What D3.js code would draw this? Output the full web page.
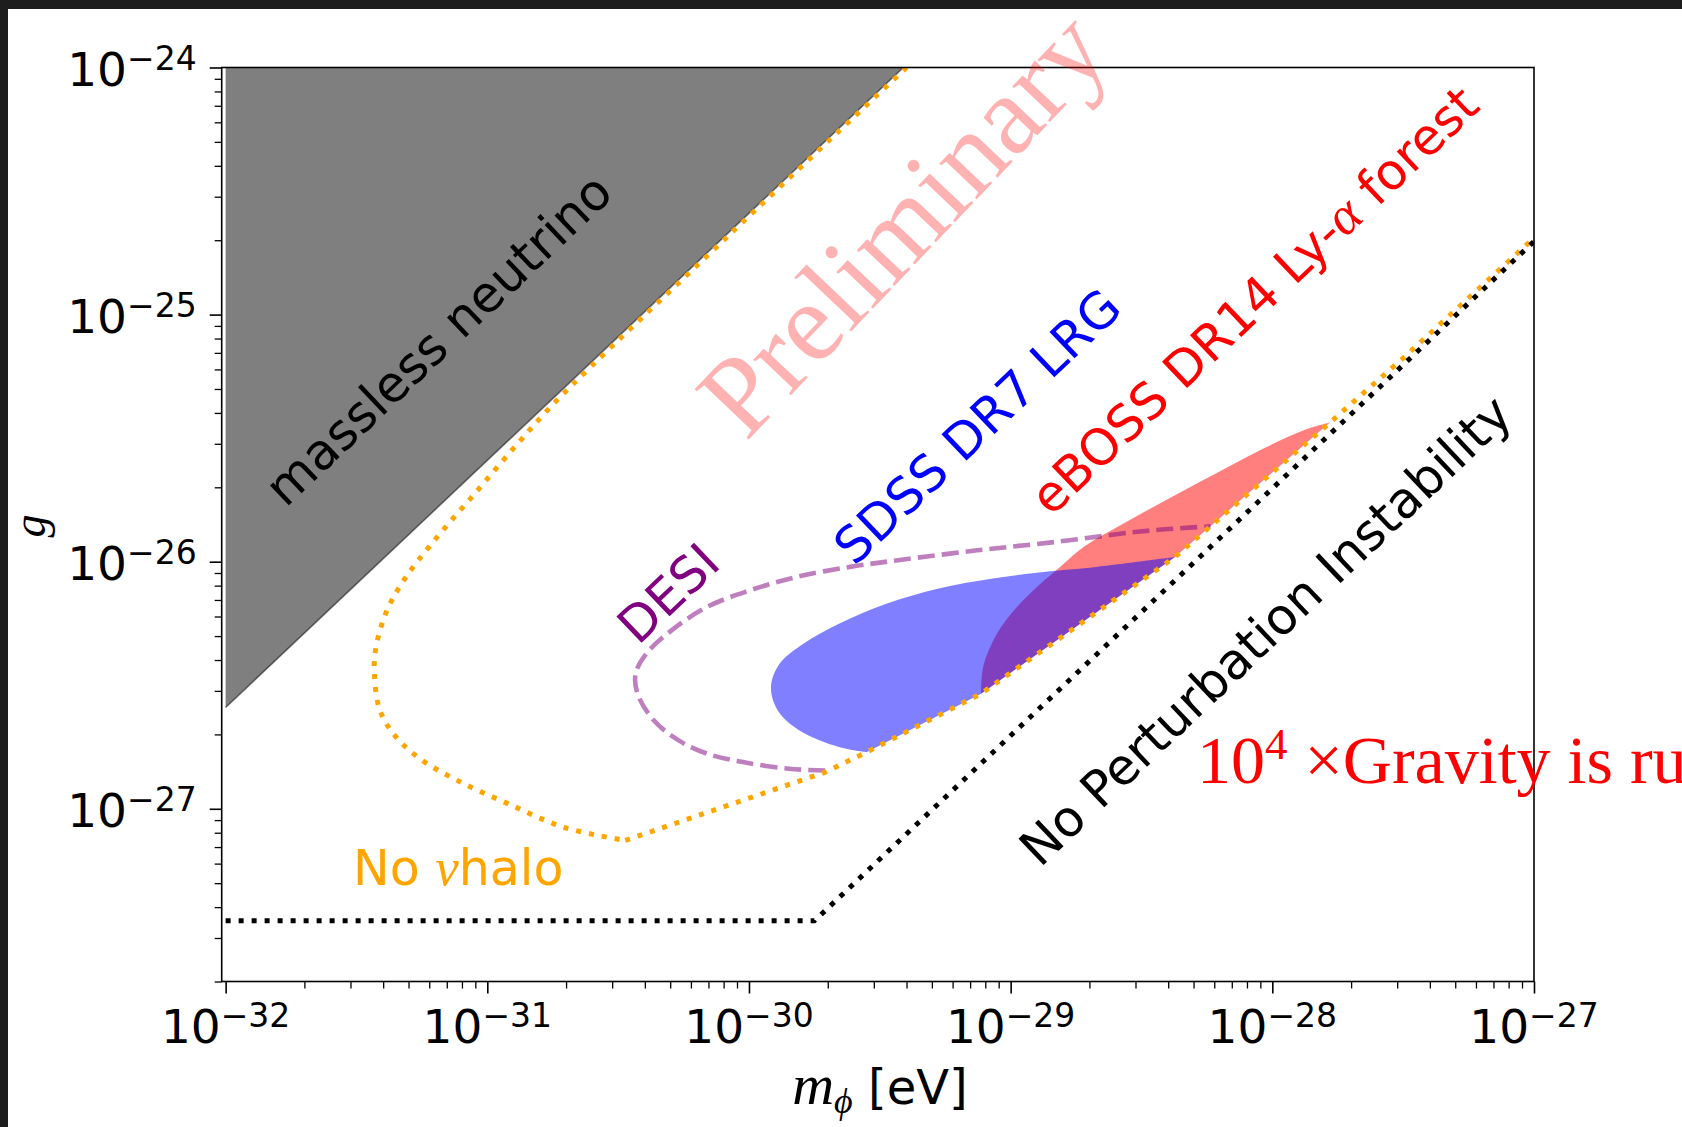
<!DOCTYPE html>
<html>
<head>
<meta charset="utf-8">
<script src="https://cdn.jsdelivr.net/npm/d3@7"></script>
<style>
  html, body { margin: 0; padding: 0; background: #ffffff; }
  svg { display: block; }
</style>
</head>
<body>
<svg id="chart" width="1682" height="1127"></svg>
<script>
// All curves are given as [log10(m_phi / eV), log10(g)] pairs.

// Excluded region: massless neutrino (g ∝ m_phi)
const masslessRegion = [[-32, -24], [-32, -26.59], [-29.41, -24]];

// "No nu halo" boundary, upper/left branch down to the corner
const haloUpper = [
  [-29.398, -24.000], [-30.072, -24.674], [-30.733, -25.346], [-30.883, -25.521],
  [-31.047, -25.723], [-31.211, -25.925], [-31.319, -26.075], [-31.388, -26.209],
  [-31.429, -26.371], [-31.429, -26.492], [-31.410, -26.602], [-31.360, -26.695],
  [-31.265, -26.792], [-31.115, -26.885], [-30.924, -26.978], [-30.707, -27.075],
  [-30.473, -27.128]
];
// "No nu halo" boundary, lower/right branch from the corner to the right edge
const haloLower = [
  [-30.473, -27.128], [-29.709, -26.852], [-29.551, -26.771], [-29.113, -26.534],
  [-28.372, -25.981], [-27.780, -25.437], [-27.500, -25.176], [-27.000, -24.690]
];

// No perturbation instability: flat floor, then g ∝ m_phi
const instabilityLine = [[-32, -27.4536], [-29.75, -27.4536], [-27, -24.7036]];

// SDSS DR7 LRG allowed region: curved upper edge (bottom point -> right tip)
const sdssEdge = [
  [-29.551, -26.771], [-29.656, -26.750], [-29.807, -26.683], [-29.890, -26.602],
  [-29.916, -26.507], [-29.883, -26.413], [-29.792, -26.332], [-29.656, -26.251],
  [-29.475, -26.170], [-29.279, -26.109], [-29.067, -26.068], [-28.840, -26.038],
  [-28.674, -26.021], [-28.372, -25.981]
];
// closing segment along the halo boundary (right tip -> bottom point)
const sdssBase = [[-29.113, -26.534], [-29.551, -26.771]];

// eBOSS DR14 Ly-alpha forest region: curved edge (bottom -> tip)
const ebossEdge = [
  [-29.113, -26.534], [-29.105, -26.426], [-29.052, -26.291], [-28.976, -26.183],
  [-28.886, -26.089], [-28.825, -26.035], [-28.720, -25.940], [-28.584, -25.855],
  [-28.418, -25.757], [-28.221, -25.646], [-28.024, -25.537], [-27.880, -25.468],
  [-27.780, -25.437]
];
const ebossBase = [[-28.372, -25.981], [-29.113, -26.534]];

// DESI forecast contour (dashed)
const desiCurve = [
  [-29.709, -26.845], [-29.847, -26.838], [-30.023, -26.811], [-30.160, -26.777],
  [-30.269, -26.723], [-30.364, -26.642], [-30.426, -26.534], [-30.433, -26.453],
  [-30.392, -26.372], [-30.296, -26.278], [-30.160, -26.183], [-29.996, -26.116],
  [-29.819, -26.062], [-29.614, -26.021], [-29.430, -25.994], [-29.128, -25.954],
  [-28.827, -25.920], [-28.525, -25.880], [-28.372, -25.866], [-28.236, -25.857]
];

// Axis ticks
const xMajor = [1e-32, 1e-31, 1e-30, 1e-29, 1e-28, 1e-27];
const yMajor = [1e-27, 1e-26, 1e-25, 1e-24];
const minorMultipliers = [2, 3, 4, 5, 6, 7, 8, 9];

// ---------------------------------------------------------------------------
const svg = d3.select("#chart");
const W = 1682, H = 1127;
const plot = { left: 221.7, right: 1534, top: 67.5, bottom: 981.5 };

const x = d3.scaleLog().domain([Math.pow(10, -32.015), 1e-27]).range([plot.left, plot.right]);
const y = d3.scaleLog().domain([2e-28, 1e-24]).range([plot.bottom, plot.top]);

const P = d => [x(Math.pow(10, d[0])), y(Math.pow(10, d[1]))];

const SANS = "'DejaVu Sans', sans-serif";
const SERIF = "'Liberation Serif', 'Times New Roman', serif";

// page background and the dark frame strip
svg.append("rect").attr("width", W).attr("height", H).attr("fill", "#ffffff");
svg.append("rect").attr("x", 0).attr("y", 0).attr("width", W).attr("height", 9).attr("fill", "#1d1d1d");
svg.append("rect").attr("x", 0).attr("y", 0).attr("width", 8).attr("height", H).attr("fill", "#1d1d1d");

svg.append("defs").append("clipPath").attr("id", "plotClip")
  .append("rect")
  .attr("x", plot.left).attr("y", plot.top)
  .attr("width", plot.right - plot.left).attr("height", plot.bottom - plot.top);

const g = svg.append("g").attr("clip-path", "url(#plotClip)");

const linear = d3.line().x(d => P(d)[0]).y(d => P(d)[1]);
const smooth = d3.line().x(d => P(d)[0]).y(d => P(d)[1]).curve(d3.curveCatmullRom.alpha(0.5));

// massless neutrino region
g.append("path")
  .attr("d", linear(masslessRegion) + "Z")
  .attr("fill", "rgba(0,0,0,0.5)")
  .attr("stroke", "none");
g.append("path")
  .attr("d", linear([masslessRegion[1], masslessRegion[2]]))
  .attr("fill", "none")
  .attr("stroke", "rgba(0,0,0,0.5)")
  .attr("stroke-width", 1.6);

// closed region: smooth edge + straight segments along the halo boundary
function region(edge, base) {
  const tail = base.map(d => "L" + P(d).join(",")).join("");
  return smooth(edge) + tail + "Z";
}

g.append("path").attr("d", region(ebossEdge, ebossBase)).attr("fill", "rgba(255,0,0,0.5)");
g.append("path").attr("d", region(sdssEdge, sdssBase)).attr("fill", "rgba(0,0,255,0.5)");

// DESI dashed contour
g.append("path")
  .attr("d", smooth(desiCurve))
  .attr("fill", "none")
  .attr("stroke", "rgba(128,0,128,0.5)")
  .attr("stroke-width", 4.6)
  .attr("stroke-dasharray", "17,7");

// No nu halo boundary (dotted orange)
const dotted = { width: 5, dash: "5,8" };
g.append("path")
  .attr("d", smooth(haloUpper))
  .attr("fill", "none").attr("stroke", "#ffa500")
  .attr("stroke-width", dotted.width).attr("stroke-dasharray", dotted.dash);
g.append("path")
  .attr("d", linear(haloLower))
  .attr("fill", "none").attr("stroke", "#ffa500")
  .attr("stroke-width", dotted.width).attr("stroke-dasharray", dotted.dash);

// perturbation instability boundary (dotted black)
g.append("path")
  .attr("d", linear(instabilityLine))
  .attr("fill", "none").attr("stroke", "#000000")
  .attr("stroke-width", dotted.width).attr("stroke-dasharray", dotted.dash);

// ---------------------------------------------------------------------------
// axes
function minorTicks(lo, hi) {
  const out = [];
  for (let e = lo; e <= hi; e++) {
    minorMultipliers.forEach(k => out.push(k * Math.pow(10, e)));
  }
  return out;
}
const xMinor = minorTicks(-32, -28).filter(v => v <= 1e-27);
const yMinor = minorTicks(-28, -25).filter(v => v >= 1.99e-28 && v <= 1e-24);

function styleAxis(sel, w) {
  sel.select(".domain").remove();
  sel.selectAll(".tick line").attr("stroke", "#000").attr("stroke-width", w);
  sel.selectAll(".tick text").remove();
}

svg.append("g").attr("transform", `translate(0,${plot.bottom})`)
  .call(d3.axisBottom(x).tickValues(xMajor).tickSize(12).tickFormat(""))
  .call(s => styleAxis(s, 1.6));
svg.append("g").attr("transform", `translate(0,${plot.bottom})`)
  .call(d3.axisBottom(x).tickValues(xMinor).tickSize(7).tickFormat(""))
  .call(s => styleAxis(s, 1.3));
svg.append("g").attr("transform", `translate(${plot.left},0)`)
  .call(d3.axisLeft(y).tickValues(yMajor).tickSize(12).tickFormat(""))
  .call(s => styleAxis(s, 1.6));
svg.append("g").attr("transform", `translate(${plot.left},0)`)
  .call(d3.axisLeft(y).tickValues(yMinor).tickSize(7).tickFormat(""))
  .call(s => styleAxis(s, 1.3));

// spines
svg.append("rect")
  .attr("x", plot.left).attr("y", plot.top)
  .attr("width", plot.right - plot.left).attr("height", plot.bottom - plot.top)
  .attr("fill", "none").attr("stroke", "#000").attr("stroke-width", 1.6);

// power-of-ten tick labels
function powerLabel(sel, v) {
  const e = Math.round(Math.log10(v));
  sel.append("tspan").text("10");
  sel.append("tspan").attr("font-size", 33).attr("dy", -16).text("\u2212" + Math.abs(e));
}

svg.append("g").selectAll("text").data(xMajor).join("text")
  .attr("x", d => x(d)).attr("y", plot.bottom + 61)
  .attr("text-anchor", "middle")
  .attr("font-family", SANS).attr("font-size", 47).attr("fill", "#000")
  .each(function (d) { powerLabel(d3.select(this), d); });

svg.append("g").selectAll("text").data(yMajor).join("text")
  .attr("x", plot.left - 25).attr("y", d => y(d) + 18)
  .attr("text-anchor", "end")
  .attr("font-family", SANS).attr("font-size", 47).attr("fill", "#000")
  .each(function (d) { powerLabel(d3.select(this), d); });

// axis titles
svg.append("text")
  .attr("transform", `translate(45,526) rotate(-90)`)
  .attr("text-anchor", "middle")
  .attr("font-family", SERIF).attr("font-style", "italic").attr("font-size", 46)
  .text("g");

const xTitle = svg.append("text")
  .attr("x", 880).attr("y", 1104)
  .attr("text-anchor", "middle")
  .attr("font-size", 48).attr("fill", "#000");
xTitle.append("tspan").attr("font-family", SERIF).attr("font-style", "italic").attr("font-size", 58).text("m");
xTitle.append("tspan").attr("font-family", SERIF).attr("font-style", "italic").attr("font-size", 36).attr("dy", 9).text("\u03d5");
xTitle.append("tspan").attr("font-family", SANS).attr("dy", -9).text(" [eV]");

// ---------------------------------------------------------------------------
// annotations
function rotatedLabel(cx, cy, angle, color, size, family, parts) {
  const t = svg.append("text")
    .attr("transform", `translate(${cx},${cy}) rotate(${-angle})`)
    .attr("text-anchor", "middle")
    .attr("dy", "0.36em")
    .attr("font-family", family).attr("font-size", size).attr("fill", color);
  parts.forEach(p => {
    const s = t.append("tspan").text(p.text);
    if (p.math) s.attr("font-family", SERIF).attr("font-style", "italic").attr("font-size", size * 1.08);
  });
  return t;
}

rotatedLabel(438, 339, 43.5, "#000000", 50, SANS, [{ text: "massless neutrino" }]);
rotatedLabel(900, 221, 46.5, "rgba(255,0,0,0.3)", 113, SERIF, [{ text: "Preliminary" }]);
rotatedLabel(977, 426, 43.5, "#0000ff", 50, SANS, [{ text: "SDSS DR7 LRG" }]);
rotatedLabel(1254, 300, 43.5, "#ff0000", 50, SANS,
  [{ text: "eBOSS DR14 Ly-" }, { text: "\u03b1", math: true }, { text: " forest" }]);
rotatedLabel(668, 593, 43.5, "#800080", 50, SANS, [{ text: "DESI" }]);
rotatedLabel(1265, 630, 43.5, "#000000", 50, SANS, [{ text: "No Perturbation Instability" }]);

const halo = svg.append("text")
  .attr("x", 353).attr("y", 885)
  .attr("font-family", SANS).attr("font-size", 49).attr("fill", "#ffa500");
halo.append("tspan").text("No ");
halo.append("tspan").attr("font-family", SERIF).attr("font-style", "italic").attr("font-size", 53).text("\u03bd");
halo.append("tspan").text("halo");

const grav = svg.append("text")
  .attr("x", 1197).attr("y", 783)
  .attr("font-family", SERIF).attr("font-size", 68).attr("fill", "#ff0000");
grav.append("tspan").text("10");
grav.append("tspan").attr("font-size", 45).attr("dy", -24).text("4");
grav.append("tspan").attr("dy", 24).text(" \u00d7Gravity is ru");
</script>
</body>
</html>
